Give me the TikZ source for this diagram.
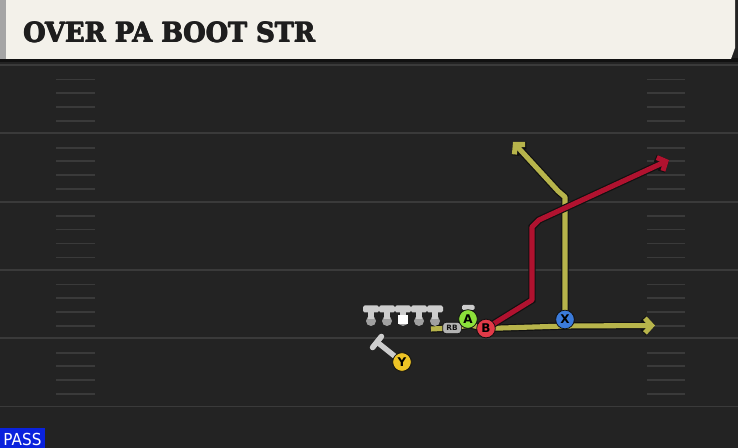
\documentclass[tikz,border=0pt]{standalone}
\usepackage{fontspec}
\setmainfont{DejaVu Sans}
\newfontfamily\titlefont{DejaVu Serif}
\usetikzlibrary{arrows.meta}
\definecolor{hdrbg}{HTML}{F3F1EA}
\definecolor{hdrstrip}{HTML}{A5A5A5}
\definecolor{fieldbg}{HTML}{232323}
\definecolor{yardc}{HTML}{3A3A3A}
\definecolor{olivec}{HTML}{B7B44B}
\definecolor{redroute}{HTML}{B0122F}
\definecolor{outlinec}{HTML}{111111}
\definecolor{agreen}{HTML}{8CE03A}
\definecolor{bred}{HTML}{E23A48}
\definecolor{xblue}{HTML}{3B7BDB}
\definecolor{yyellow}{HTML}{EEC425}
\definecolor{passblue}{HTML}{0A22DD}
\definecolor{tgrey}{HTML}{CDCDCD}
\definecolor{tdark}{HTML}{A0A0A0}
\definecolor{titlec}{HTML}{1E1E1E}
\newcommand{\titletext}{\resizebox{219pt}{15pt}{\titlefont\bfseries OVER PA BOOT STR}}
\tikzset{
  yardline/.style={draw=yardc, line width=1.4pt},
  hashline/.style={draw=yardc, line width=1.3pt},
  titlenode/.style={anchor=west, inner sep=0pt, text=titlec},
  routebase/.style={line width=3.8pt, line join=round,
    preaction={draw=outlinec, line width=5.6pt}},
  route/.style={routebase, -{Straight Barb[length=5pt,width=11pt]}},
  player/.style={circle, minimum size=14pt, inner sep=0pt, draw=outlinec, line width=0.6pt,
    font=\bfseries\fontsize{9}{9}\selectfont, text=black},
  lineman/.pic={
    \fill[tdark] (0,321) circle (5);
    \fill[tgrey, rounded corners=1.2pt] (-8,305.5) rectangle (8,312.5);
    \fill[tgrey] (-3,311) rectangle (3,319);
  },
}
\begin{document}
\begin{tikzpicture}[x=0.75pt,y=-0.75pt]
\useasboundingbox (0,0) rectangle (738,448);
% field
\fill[fieldbg] (0,0) rectangle (738,448);
\fill[outlinec] (0,58) rectangle (738,62);
% header
\fill[hdrbg] (6,0) -- (735,0) -- (735,48) -- (731,59) -- (6,59) -- cycle;
\fill[hdrstrip] (0,0) rectangle (6,59);
\node[titlenode] (title) at (22.5,32.5) {\titletext};
\node[titlenode] (titleb) at (23.5,32.5) {\titletext};
\node[titlenode] (titlec) at (23,31.9) {\titletext};
\node[titlenode] (titled) at (23,33.1) {\titletext};
% yard lines
\foreach \yy in {65,133.3,201.6,269.9,338.2,406.5}
  \draw[yardline] (0,\yy) -- (738,\yy);
% hash marks
\foreach \yy in {65,133.3,201.6,269.9,338.2}{
  \foreach \dd in {14.5,28,42,56}{
    \draw[hashline] (56,\yy+\dd) -- (95,\yy+\dd);
    \draw[hashline] (647,\yy+\dd) -- (685,\yy+\dd);
  }
}
% route coordinates
\coordinate (rbstart) at (431,329);
\coordinate (rbmid) at (452,328);
\coordinate (ua) at (470,325);
\coordinate (xl) at (565,326);
\coordinate (oend) at (655,325.5);
\coordinate (r1) at (532,300);
\coordinate (r2) at (532,227);
\coordinate (r3) at (539,220);
\coordinate (rend) at (669,160);
\coordinate (x1) at (565,197);
\coordinate (x2) at (558,191);
\coordinate (xend) at (513,142);
\coordinate (ybar) at (377,342);
% player positions
\node[player, fill=agreen] (A) at (468,319) {A};
\node[player, fill=bred] (B) at (486,328.5) {B};
\node[player, fill=xblue] (X) at (565,319.5) {X};
\node[player, fill=yyellow] (Y) at (402,362) {Y};
% routes
\draw[routebase, olivec] (rbstart) -- (rbmid) -- (ua) -- (B.center);
\draw[route, olivec] (B.center) -- (xl) -- (oend);
\draw[route, olivec] (X.center) -- (x1) -- (x2) -- (xend);
\draw[route, redroute] (B.center) -- (r1) -- (r2) -- (r3) -- (rend);
% Y block
\draw[tgrey, line width=4pt] (ybar) -- (Y.center);
\draw[tgrey, line width=4.2pt, line cap=round] (372.6,347.5) -- (381.4,336.5);
% linemen
\pic (lt) at (371,0) {lineman};
\pic (lg) at (387,0) {lineman};
\pic (c) at (403,0) {lineman};
\pic (rg) at (419,0) {lineman};
\pic (rt) at (435,0) {lineman};
\fill[white] (398,315) rectangle (408,324);
% A block bar
\fill[tgrey, rounded corners=1pt] (462,305) rectangle (474.5,310);
% RB label
\node[draw=outlinec, fill=tdark!80!white, rounded corners=2.5pt, line width=0.5pt,
  minimum width=14pt, minimum height=8.5pt, inner sep=0pt,
  font=\bfseries\fontsize{5.5}{5.5}\selectfont, text=outlinec] (RB) at (rbmid) {RB};
% players redrawn on top
\node[player, fill=agreen] (A2) at (A) {A};
\node[player, fill=bred] (B2) at (B) {B};
\node[player, fill=xblue] (X2) at (X) {X};
\node[player, fill=yyellow] (Y2) at (Y) {Y};
% PASS tag
\fill[passblue] (0,428) rectangle (45,448);
\node[inner sep=0pt, text=white] (pass) at (22.5,439)
  {\resizebox{28.5pt}{9.2pt}{PASS}};
\end{tikzpicture}
\end{document}
